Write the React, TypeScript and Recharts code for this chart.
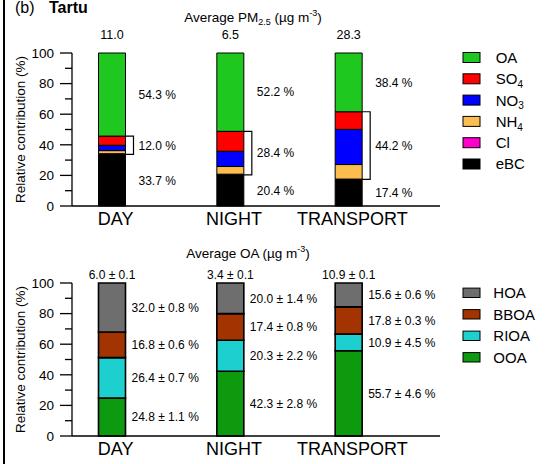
import React from 'react'
import { BarChart, Bar, XAxis, YAxis, LabelList } from 'recharts'

const categories = ['DAY', 'NIGHT', 'TRANSPORT']

// top panel: PM2.5 composition (%), stacked bottom -> top
const pmTotals = ['11.0', '6.5', '28.3']
const eBC = [33.7, 20.4, 17.4]
const Cl = [0.5, 0.4, 0.2]
const NH4 = [2.0, 5.0, 9.5]
const NO3 = [3.5, 10.0, 23.0]
const SO4 = [6.0, 13.0, 11.5]
const OA = [54.3, 51.2, 38.4]
const oaLabels = ['54.3 %', '52.2 %', '38.4 %']
const inorgLabels = ['12.0 %', '28.4 %', '44.2 %']
const ebcLabels = ['33.7 %', '20.4 %', '17.4 %']

// bottom panel: OA source factors (%)
const oaTotals = ['6.0 ± 0.1', '3.4 ± 0.1', '10.9 ± 0.1']
const OOA = [24.8, 42.3, 55.7]
const RIOA = [26.4, 20.3, 10.9]
const BBOA = [16.8, 17.4, 17.8]
const HOA = [32.0, 20.0, 15.6]
const ooaErr = [1.1, 2.8, 4.6]
const rioaErr = [0.7, 2.2, 4.5]
const bboaErr = [0.6, 0.8, 0.3]
const hoaErr = [0.8, 1.4, 0.6]

const yTicks = [0, 10, 20, 30, 40, 50, 60, 70, 80, 90, 100]

const FONT = "Arial, 'Liberation Sans', Helvetica, sans-serif"

const pmSeries = [
  { key: 'eBC', name: 'eBC', sub: '', color: '#000000' },
  { key: 'Cl', name: 'Cl', sub: '', color: '#ff00cc' },
  { key: 'NH4', name: 'NH', sub: '4', color: '#fbbd4e' },
  { key: 'NO3', name: 'NO', sub: '3', color: '#0000ff' },
  { key: 'SO4', name: 'SO', sub: '4', color: '#ff0000' },
  { key: 'OA', name: 'OA', sub: '', color: '#1ec81e' },
]

const oaSeries = [
  { key: 'OOA', name: 'OOA', color: '#0e9a0e', err: ooaErr },
  { key: 'RIOA', name: 'RIOA', color: '#1ecfcf', err: rioaErr },
  { key: 'BBOA', name: 'BBOA', color: '#a33300', err: bboaErr },
  { key: 'HOA', name: 'HOA', color: '#6e6e6e', err: hoaErr },
]

const pmData = categories.map((name, i) => ({
  name, eBC: eBC[i], Cl: Cl[i], NH4: NH4[i], NO3: NO3[i], SO4: SO4[i], OA: OA[i],
}))
const oaData = categories.map((name, i) => ({
  name, OOA: OOA[i], RIOA: RIOA[i], BBOA: BBOA[i], HOA: HOA[i],
}))

// label props differ a bit between recharts versions
const box = (p: any) => {
  const vb = p.viewBox || p
  return {
    x: Number(vb.x ?? p.x),
    y: Number(vb.y ?? p.y),
    w: Number(vb.width ?? p.width),
    h: Number(vb.height ?? p.height),
    i: Number(p.index ?? 0),
  }
}

// major ticks every 20 with labels, minor (shorter) ticks in between
const YTick = (props: any) => {
  const { x, y, payload } = props
  const axisX = x + 18
  const major = payload.value % 20 === 0
  return (
    <g>
      <line x1={axisX - (major ? 12 : 7)} x2={axisX} y1={y} y2={y} stroke="#000" strokeWidth={1.3} />
      {major && (
        <text x={axisX - 18} y={y} dy={4.8} textAnchor="end" fontSize={13.5} fontFamily={FONT} fill="#000">
          {payload.value}
        </text>
      )}
    </g>
  )
}

const XTick = (props: any) => {
  const { x, y, payload } = props
  return (
    <text x={x + 4} y={y} dy={13} textAnchor="middle" fontSize={18} fontFamily={FONT} fill="#000">
      {payload.value}
    </text>
  )
}

const txt = { fontSize: 12, fontFamily: FONT, fill: '#000' } as const

const renderYAxis = () => (
  <YAxis domain={[0, 100]} ticks={yTicks} interval={0} width={72} tickLine={false} tickSize={12} tickMargin={6}
    axisLine={{ stroke: '#000', strokeWidth: 1.3 }} tick={<YTick />}
    label={{ value: 'Relative contribution (%)', angle: -90, position: 'center', dx: -16, fontSize: 13.5, fontFamily: FONT, fill: '#000' }} />
)

const renderXAxis = (height: number) => (
  <XAxis dataKey="name" tickLine={false} tickSize={0} tickMargin={6} height={height}
    axisLine={{ stroke: '#000', strokeWidth: 1.3 }} tick={<XTick />} padding={{ left: -19.5, right: 32.5 }} />
)

export default function App() {
  return (
    <div style={{ position: 'absolute', left: 0, top: 0, width: 549, height: 464, background: '#fff', fontFamily: FONT }}>
      <div style={{ position: 'absolute', left: 0, top: 0 }}>
        <BarChart width={549} height={232} data={pmData} margin={{ top: 53, right: 109, bottom: 0, left: 0 }}>
          {renderXAxis(26)}
          {renderYAxis()}
          {pmSeries.map(s => (
            <Bar key={s.key} dataKey={s.key} stackId="pm" fill={s.color} stroke="#000" strokeWidth={1}
              barSize={27} isAnimationActive={false}>
              {s.key === 'OA' && (
                <LabelList content={(p: any) => {
                  const { x, y, w, h, i } = box(p)
                  return (
                    <g>
                      <text x={x + w / 2} y={y - 14.5} textAnchor="middle" {...txt} fontSize={12.5}>{pmTotals[i]}</text>
                      <text x={x + w + 13} y={y + h / 2} dy={4.3} {...txt}>{oaLabels[i]}</text>
                    </g>
                  )
                }} />
              )}
              {s.key === 'eBC' && (
                <LabelList content={(p: any) => {
                  const { x, y, w, h, i } = box(p)
                  // bracket spans the inorganic species sitting on top of eBC
                  const ppu = h / eBC[i]
                  const inorg = Cl[i] + NH4[i] + NO3[i] + SO4[i]
                  const top = y - inorg * ppu
                  const r = x + w
                  return (
                    <g>
                      <text x={r + 13} y={y + h / 2} dy={4.3} {...txt}>{ebcLabels[i]}</text>
                      <polyline points={`${r},${top} ${r + 8},${top} ${r + 8},${y} ${r},${y}`}
                        fill="none" stroke="#000" strokeWidth={1.2} />
                      <text x={r + 13} y={(top + y) / 2} dy={4.3} {...txt}>{inorgLabels[i]}</text>
                    </g>
                  )
                }} />
              )}
            </Bar>
          ))}
        </BarChart>
      </div>

      <div style={{ position: 'absolute', left: 0, top: 232 }}>
        <BarChart width={549} height={232} data={oaData} margin={{ top: 51, right: 109, bottom: 0, left: 0 }}>
          {renderXAxis(28)}
          {renderYAxis()}
          {oaSeries.map(s => (
            <Bar key={s.key} dataKey={s.key} stackId="oa" fill={s.color} stroke="#000" strokeWidth={1.6}
              barSize={27} isAnimationActive={false}>
              <LabelList content={(p: any) => {
                const { x, y, w, h, i } = box(p)
                const v = (oaData[i] as any)[s.key] as number
                return (
                  <g>
                    {s.key === 'HOA' && (
                      <text x={x + w / 2} y={y - 4.5} textAnchor="middle" {...txt}>{oaTotals[i]}</text>
                    )}
                    <text x={x + w + 6} y={y + h / 2} dy={4.3} {...txt}>
                      {`${v.toFixed(1)} ± ${s.err[i].toFixed(1)} %`}
                    </text>
                  </g>
                )
              }} />
            </Bar>
          ))}
        </BarChart>
      </div>

      <svg width={549} height={464} style={{ position: 'absolute', left: 0, top: 0, pointerEvents: 'none' }}>
        <rect x={3} y={0} width={2} height={464} fill="#000" />
        <text x={15} y={13} fontSize={16} fontFamily={FONT} fill="#000">(b)</text>
        <text x={49} y={13} fontSize={16} fontWeight="bold" fontFamily={FONT} fill="#000">Tartu</text>

        <text x={253} y={21.7} textAnchor="middle" fontSize={13.5} fontFamily={FONT} fill="#000">
          Average PM<tspan fontSize={9} dy={3}>2.5</tspan>
          <tspan dy={-3}> (µg m</tspan>
          <tspan fontSize={9} dy={-6}>-3</tspan>
          <tspan dy={6}>)</tspan>
        </text>
        <text x={248} y={258} textAnchor="middle" fontSize={13.5} fontFamily={FONT} fill="#000">
          Average OA (µg m<tspan fontSize={9} dy={-6}>-3</tspan>
          <tspan dy={6}>)</tspan>
        </text>

        {[...pmSeries].reverse().map((s, k) => (
          <g key={s.key} transform={`translate(463, ${57.5 + k * 21.3})`}>
            <rect x={0} y={-5} width={17} height={10} fill={s.color} stroke="#000" strokeWidth={1} />
            <text x={32.7} y={5.4} fontSize={15} fontFamily={FONT} fill="#000">
              {s.name}
              {s.sub && <tspan fontSize={10} dy={4}>{s.sub}</tspan>}
            </text>
          </g>
        ))}

        {[...oaSeries].reverse().map((s, k) => (
          <g key={s.key} transform={`translate(463, ${292.8 + k * 21.5})`}>
            <rect x={0} y={-4.7} width={17} height={9.4} fill={s.color} stroke="#000" strokeWidth={1} />
            <text x={30.3} y={5.4} fontSize={15} fontFamily={FONT} fill="#000">{s.name}</text>
          </g>
        ))}
      </svg>
    </div>
  )
}
